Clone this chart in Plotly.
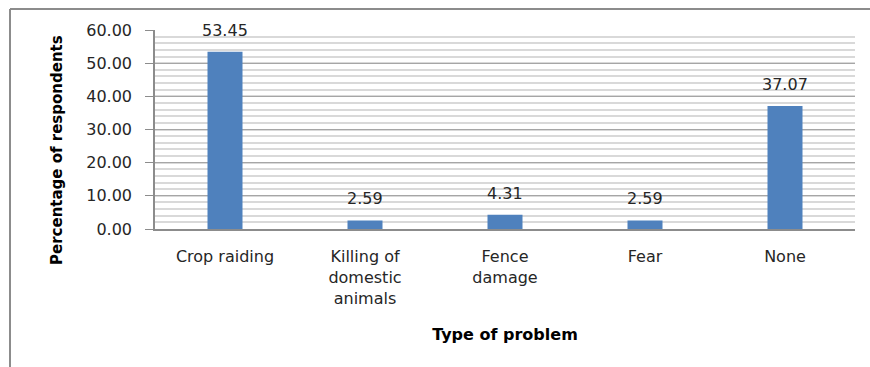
import plotly.graph_objects as go

categories = ["Crop raiding", "Killing of<br>domestic<br>animals", "Fence<br>damage", "Fear", "None"]
percentages = [53.45, 2.59, 4.31, 2.59, 37.07]
value_labels = ["53.45", "2.59", "4.31", "2.59", "37.07"]
y_ticks = [0, 10, 20, 30, 40, 50, 60]
y_tick_text = ["0.00", "10.00", "20.00", "30.00", "40.00", "50.00", "60.00"]

FONT = "DejaVu Sans"
TEXT = "#262626"

fig = go.Figure(
    go.Bar(
        x=categories,
        y=percentages,
        width=0.25,
        marker=dict(color="#4F81BD", line=dict(width=0)),
        hoverinfo="x+y",
    )
)

# value labels sitting above each bar
for cat, val, lab in zip(categories, percentages, value_labels):
    fig.add_annotation(
        x=cat, y=val, text=lab, showarrow=False,
        yanchor="bottom", yshift=10,
        font=dict(family=FONT, size=16, color=TEXT),
    )

W, H = 870, 367
L, R, T, B = 155, 15, 30, 138
pw = W - L - R
ph = H - T - B


def px_x(p):
    return (p - L) / pw


def px_y(p):
    return (H - B - p) / ph


# y-axis title, placed as a rotated annotation
fig.add_annotation(
    xref="paper", yref="paper", x=px_x(57), y=px_y(150),
    text="<b>Percentage of respondents</b>", textangle=-90, showarrow=False,
    xanchor="center", yanchor="middle",
    font=dict(family=FONT, size=15, color="#000000"),
)

fig.update_layout(
    width=W,
    height=H,
    margin=dict(l=L, r=R, t=T, b=B),
    paper_bgcolor="white",
    plot_bgcolor="white",
    showlegend=False,
    font=dict(family=FONT, color=TEXT),
    xaxis=dict(
        title=dict(text="<b>Type of problem</b>", font=dict(family=FONT, size=16, color="#000000"), standoff=22),
        tickfont=dict(family=FONT, size=16, color=TEXT),
        ticklabelstandoff=12,
        showline=True,
        linecolor="#8c8c8c",
        linewidth=1.5,
        ticks="",
        showgrid=False,
    ),
    yaxis=dict(
        range=[0, 60],
        tickvals=y_ticks,
        ticktext=y_tick_text,
        tickfont=dict(family=FONT, size=16, color=TEXT),
        ticklabelstandoff=10,
        showline=True,
        linecolor="#8c8c8c",
        linewidth=1.5,
        ticks="outside",
        ticklen=8,
        tickcolor="#8c8c8c",
        showgrid=True,
        gridcolor="#a6a6a6",
        gridwidth=1,
        minor=dict(dtick=2, showgrid=True, gridcolor="#d9d9d9", gridwidth=1.5),
        zeroline=False,
    ),
    bargap=0.75,
    shapes=[
        dict(type="line", xref="paper", yref="paper",
             x0=px_x(10), x1=px_x(W), y0=px_y(9), y1=px_y(9),
             line=dict(color="#8c8c8c", width=2)),
        dict(type="line", xref="paper", yref="paper",
             x0=px_x(10), x1=px_x(10), y0=px_y(9), y1=px_y(H),
             line=dict(color="#8c8c8c", width=2)),
    ],
)

fig.write_html("out.html")
